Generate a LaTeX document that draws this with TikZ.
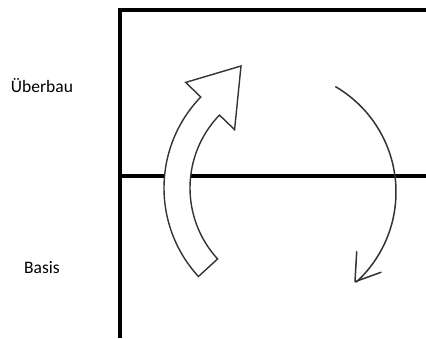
\documentclass[tikz,border=0pt]{standalone}
\usepackage{fontspec}
\setmainfont{Carlito}
\usetikzlibrary{calc}
\begin{document}
\begin{tikzpicture}[x=1pt,y=1pt,
  frame/.style={line width=3.6pt,black},
  blockarrow/.style={draw=black!80,line width=1.4pt,fill=white,line join=miter},
  thinarrow/.style={draw=black!80,line width=1.5pt,line cap=round},
  lbl/.style={font=\fontsize{17.5}{20}\selectfont,inner sep=0pt}]
\useasboundingbox (0,0) rectangle (426,338);
% frame
\coordinate (tl) at (120,328);
\coordinate (tr) at (426,328);
\coordinate (bl) at (120,0);
\coordinate (ml) at (120,162);
\coordinate (mr) at (426,162);
\draw[frame] (tr) -- (tl) -- (bl);
\draw[frame] (ml) -- (mr);
% labels
\node[lbl] (ueber) at (42,252) {Überbau};
\node[lbl] (basis) at (42,70) {Basis};
% block arrow (centre 295,150)
\coordinate (c) at (295,150);
\draw[blockarrow]
  ($(c)+(222.5:105)$) arc[start angle=222.5,end angle=136,radius=105]
  -- ($(c)+(136:84)$) -- (241,272) -- ($(c)+(136:152)$) -- ($(c)+(136:131)$)
  arc[start angle=136,end angle=222.5,radius=131] -- cycle;
% thin arrow (centre 274,146)
\coordinate (c2) at (274,146);
\coordinate (tip) at (355,56.3);
\draw[thinarrow] ($(c2)+(59.6:122)$) arc[start angle=59.6,end angle=-47.6,radius=122];
\draw[thinarrow,line join=round] (356.7,86.3) -- (tip) -- (381,65.7);
\end{tikzpicture}
\end{document}
